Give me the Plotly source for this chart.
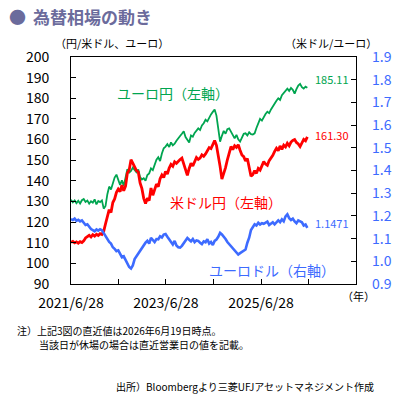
import pandas as pd
import plotly.graph_objects as go

# 2-weekly sampling, 2021/6/28 .. 2026/6/19
start = "2021-06-28"
end = "2026-06-19"

usd_jpy = [110.2, 110.6, 109.9, 110.4, 109.8, 110.5, 110.1, 110.9, 112.3, 113.0,
           113.6, 112.8, 113.9, 113.2, 114.1, 113.5, 114.4, 114.0, 115.6, 119.2,
           122.5, 126.0, 124.6, 129.5, 131.2, 134.4, 136.0, 134.8, 137.9, 135.2,
           137.4, 143.8, 145.2, 150.2, 148.6, 147.1, 145.0, 144.3, 139.0, 136.2,
           131.5, 129.0, 131.6, 130.4, 136.5, 133.0, 136.2, 138.4, 137.1, 141.0,
           142.8, 141.6, 144.5, 143.3, 146.2, 148.0, 147.1, 149.2, 148.5, 149.6,
           150.3, 151.0, 148.2, 145.5, 142.6, 146.0, 148.5, 147.2, 149.8, 151.3,
           150.4, 151.0, 152.6, 151.9, 153.0, 154.8, 156.1, 155.6, 157.8, 159.5,
           157.2, 152.8, 147.0, 140.8, 143.5, 146.4, 150.2, 153.8, 156.6, 155.1,
           157.0, 156.2, 157.5, 154.8, 152.5, 151.7, 149.6, 150.8, 146.0, 142.2,
           143.0, 144.9, 143.6, 146.0, 145.2, 147.4, 149.3, 148.1, 147.5, 149.8,
           151.0, 152.4, 154.3, 155.8, 154.6, 156.9, 155.2, 157.3, 156.4, 158.2,
           157.0, 158.8, 159.6, 160.0, 158.6, 157.9, 156.6, 158.5, 160.1, 159.4,
           161.30]

eur_jpy = [130.8, 129.6, 130.5, 129.2, 130.3, 129.0, 130.6, 131.2, 129.8, 130.4,
           128.9, 130.1, 129.4, 131.0, 128.6, 130.2, 129.7, 130.5, 126.5, 127.8,
           133.5, 137.2, 135.8, 138.9, 141.6, 143.0, 140.4, 138.0, 140.2, 137.6,
           141.5, 145.6, 144.0, 144.8, 146.4, 145.0, 144.2, 145.5, 141.8, 140.6,
           141.2, 140.0, 142.8, 143.6, 146.0, 145.2, 148.0, 150.2, 151.4, 149.6,
           153.2, 155.8, 156.6, 157.8, 156.4, 158.6, 157.2, 158.0, 159.4, 160.8,
           161.7, 162.8, 164.0, 161.2, 160.0, 158.6, 162.0, 161.4, 163.2, 164.4,
           165.4, 164.6, 166.8, 167.9, 169.6, 168.8, 170.9, 172.2, 173.4, 174.6,
           171.6, 165.4, 159.0, 161.8, 164.2, 162.8, 165.0, 165.4, 163.8, 161.6,
           160.6, 162.3, 160.1, 159.0, 161.2, 162.8, 163.0, 162.0, 163.5, 162.6,
           162.4, 163.0, 165.6, 167.8, 170.0, 169.2, 171.0, 172.4, 173.5, 172.8,
           174.6, 176.2, 177.4, 178.8, 180.0, 179.2, 181.5, 182.6, 183.4, 184.7,
           183.6, 185.0, 184.1, 182.3, 184.4, 186.2, 187.0, 185.4, 184.7, 185.6,
           185.11]

eur_usd = [1.186, 1.182, 1.188, 1.178, 1.183, 1.176, 1.180, 1.168, 1.160, 1.163,
           1.150, 1.142, 1.137, 1.132, 1.140, 1.135, 1.141, 1.137, 1.124, 1.110,
           1.098, 1.085, 1.078, 1.062, 1.055, 1.045, 1.048, 1.030, 1.018, 1.022,
           1.005, 0.985, 0.975, 0.968, 0.982, 1.010, 1.022, 1.035, 1.050, 1.060,
           1.075, 1.082, 1.090, 1.078, 1.103, 1.092, 1.085, 1.098, 1.097, 1.110,
           1.105, 1.118, 1.120, 1.108, 1.095, 1.088, 1.074, 1.090, 1.070, 1.062,
           1.060, 1.068, 1.080, 1.092, 1.103, 1.095, 1.088, 1.098, 1.084, 1.092,
           1.090, 1.082, 1.076, 1.088, 1.084, 1.097, 1.078, 1.085, 1.072, 1.090,
           1.096, 1.108, 1.125, 1.118, 1.110, 1.098, 1.085, 1.076, 1.068, 1.060,
           1.048, 1.040, 1.030, 1.036, 1.042, 1.045, 1.052, 1.082, 1.104, 1.138,
           1.150, 1.163, 1.158, 1.170, 1.162, 1.168, 1.165, 1.169, 1.175, 1.160,
           1.168, 1.172, 1.163, 1.170, 1.180, 1.172, 1.185, 1.176, 1.198, 1.207,
           1.190, 1.182, 1.188, 1.176, 1.168, 1.180, 1.176, 1.172, 1.158, 1.162,
           1.1471]

dates = pd.date_range(start, end, periods=len(usd_jpy))

x_ticks = ["2021-06-28", "2022-06-28", "2023-06-28", "2024-06-28",
           "2025-06-28", "2026-06-28", "2027-06-28"]
x_labels = ["2021/6/28", "", "2023/6/28", "", "2025/6/28", "", ""]

GREEN = "#00a550"
RED = "#ff0000"
BLUE = "#3d6bff"
FONT = "Noto Sans CJK JP"

# plot box in page pixels
L, R, T, B = 71, 356, 57, 284


def pp(x, y):
    return (x - L) / (R - L), (B - y) / (B - T)


fig = go.Figure()
fig.add_trace(go.Scatter(x=dates, y=eur_usd, yaxis="y2", mode="lines",
                         line=dict(color=BLUE, width=2.6)))
fig.add_trace(go.Scatter(x=dates, y=eur_jpy, mode="lines",
                         line=dict(color=GREEN, width=1.8)))
fig.add_trace(go.Scatter(x=dates, y=usd_jpy, mode="lines",
                         line=dict(color=RED, width=2.8)))

fig.update_layout(
    width=405, height=400,
    margin=dict(l=L, r=405 - R, t=T, b=400 - B),
    paper_bgcolor="white", plot_bgcolor="white",
    showlegend=False,
    font=dict(family=FONT, size=14, color="black"),
    xaxis=dict(range=["2021-06-28", "2027-06-28"], tickvals=x_ticks, ticktext=x_labels,
               ticks="inside", ticklen=5, tickcolor="black", showgrid=False,
               showline=True, linecolor="black", linewidth=1, mirror=True,
               ticklabelstandoff=6, tickfont=dict(size=14)),
    yaxis=dict(range=[90, 200], dtick=10, ticks="inside", ticklen=5, tickcolor="black",
               showgrid=False, showline=True, linecolor="black", linewidth=1, mirror=True,
               ticklabelstandoff=18, tickfont=dict(size=14)),
    yaxis2=dict(range=[0.9, 1.9], dtick=0.1, tickformat=".1f", overlaying="y", side="right",
                ticks="inside", ticklen=5, tickcolor="black", showgrid=False, showline=False,
                ticklabelstandoff=15, tickfont=dict(size=14, color=BLUE)),
)

notes = [
    (7, 17, "●", 17, "#6b6b9c"),
    (31, 17, "<b>為替相場の動き</b>", 17, "#6b6b9c"),
    (53, 43, "（円/米ドル、ユーロ）", 11, "black"),
    (283, 43, "（米ドル/ユーロ）", 11, "black"),
    (115, 93, "ユーロ円（左軸）", 14, GREEN),
    (313, 79, "185.11", 11, GREEN),
    (313, 135, "161.30", 11, RED),
    (168, 202, "米ドル円（左軸）", 14, RED),
    (313, 223, "1.1471", 11, BLUE),
    (207, 270, "ユーロドル（右軸）", 14, BLUE),
    (340, 296, "（年）", 11, "black"),
    (15, 330, "注）上記3図の直近値は2026年6月19日時点。", 10, "black"),
    (37, 344, "当該日が休場の場合は直近営業日の値を記載。", 10, "black"),
    (114, 386, "出所）Bloombergより三菱UFJアセットマネジメント作成", 10, "black"),
]
for x, y, txt, size, col in notes:
    ax, ay = pp(x, y)
    fig.add_annotation(x=ax, y=ay, xref="paper", yref="paper", text=txt, showarrow=False,
                       xanchor="left", yanchor="middle",
                       font=dict(family=FONT, size=size, color=col))

fig.write_html("out.html", config={"displayModeBar": False},
               post_script="document.body.style.margin='0';")
